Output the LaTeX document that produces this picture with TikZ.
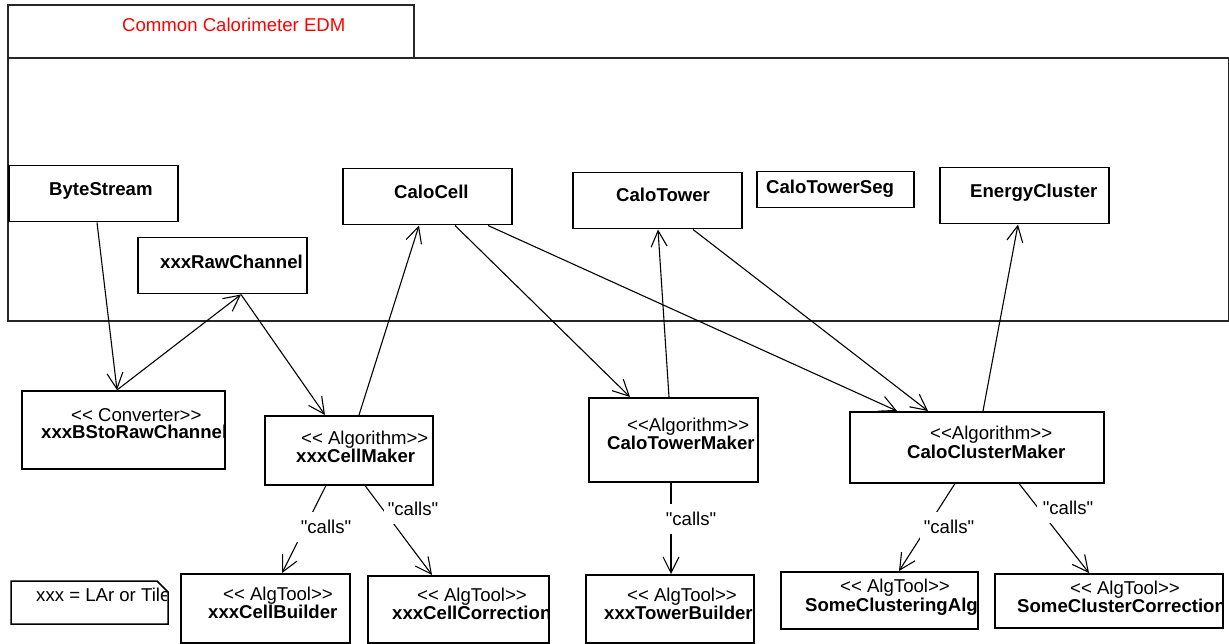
\documentclass[tikz,border=0pt]{standalone}
\usepackage{fontspec}
\setmainfont{Liberation Sans}[Ligatures=TeXOff]
\usetikzlibrary{arrows.meta}

\newcommand\dfont{\fontsize{18.6pt}{20pt}\selectfont}

% class box given by its corners (x1,y1) -- (x2,y2), y growing downwards
\newcommand\classbox[5]{%
  \node[box, anchor=north west,
        minimum width={(#4-#2)*1pt}, minimum height={(#5-#3)*1pt}] (#1) at (#2,#3) {};}
% texts of a box, clipped to the box
\newcommand\boxtexts[2]{%
  \begin{scope}\clip (#1.south west) rectangle (#1.north east); #2\end{scope}}

\tikzset{
  box/.style={draw=black, line width=1.5pt, fill=white, rectangle, inner sep=0pt},
  pkg/.style={draw=black!85, line width=1.8pt, rectangle, inner sep=0pt},
  txt/.style={anchor=base west, inner sep=0pt, font=\dfont,
    text height=13.4pt, text depth=0pt},
  btxt/.style={txt, font=\dfont\bfseries},
  conn/.style={line width=1.1pt,
    -{Straight Barb[length=16pt, width=16pt, line width=1.1pt]}},
  lbl/.style={fill=white, inner xsep=4pt, inner ysep=8pt, font=\dfont},
}

\begin{document}
\begin{tikzpicture}[x=1pt, y=-1pt]
\useasboundingbox (0,0) rectangle (1229,644);

% package
\node[pkg, anchor=north west, minimum width=1221pt, minimum height=263pt] (pkgbody) at (7,57) {};
\node[pkg, anchor=north west, minimum width=406pt, minimum height=53pt] (pkgtab) at (7,4) {};
\node[txt, text=red] (title) at (122,32) {Common Calorimeter EDM};

% classes of the EDM
\classbox{bs}{8}{165}{177}{221}
\classbox{raw}{137}{237}{306}{293}
\classbox{cell}{342}{168}{511}{224}
\classbox{tower}{572}{172}{741}{228}
\classbox{seg}{756}{171}{913}{207}
\classbox{ec}{939}{167}{1108}{223}

% algorithms
\classbox{conv}{21}{390}{224}{468}
\classbox{cm}{264}{415}{432}{484}
\classbox{tm}{588}{397}{757}{481}
\classbox{ccm}{849}{411}{1103}{482}

% tools
\classbox{cb}{180}{573}{349}{642}
\classbox{cc}{367}{575}{548}{642}
\classbox{tb}{585}{574}{753}{642}
\classbox{sca}{780}{571}{977}{628}
\classbox{scc}{994}{573}{1222}{627}

% note with its folded corner
\draw[line width=1.5pt] (11,581) -- (157,581) -- (168,592) -- (168,624) -- (11,624) -- cycle;
\coordinate (noteNW) at (11,624);
\coordinate (noteSE) at (166,581);

% texts
\boxtexts{bs}{\node[btxt] (bs-t) at (49,196) {ByteStream};}
\boxtexts{raw}{\node[btxt] (raw-t) at (160,269) {xxxRawChannel};}
\boxtexts{cell}{\node[btxt] (cell-t) at (394,199) {CaloCell};}
\boxtexts{tower}{\node[btxt] (tower-t) at (616,202) {CaloTower};}
\boxtexts{seg}{\node[btxt] (seg-t) at (766,194) {CaloTowerSeg};}
\boxtexts{ec}{\node[btxt] (ec-t) at (970,198) {EnergyCluster};}

\boxtexts{conv}{\node[txt] (conv-s) at (71,421) {<{}< Converter>{}>};
  \node[btxt] (conv-n) at (41,438) {xxxBStoRawChannel};}
\boxtexts{cm}{\node[txt] (cm-s) at (301,444) {<{}< Algorithm>{}>};
  \node[btxt] (cm-n) at (296,462) {xxxCellMaker};}
\boxtexts{tm}{\node[txt] (tm-s) at (627,431) {<{}<Algorithm>{}>};
  \node[btxt] (tm-n) at (607,449) {CaloTowerMaker};}
\boxtexts{ccm}{\node[txt] (ccm-s) at (930,439) {<{}<Algorithm>{}>};
  \node[btxt] (ccm-n) at (907,458) {CaloClusterMaker};}

\boxtexts{cb}{\node[txt] (cb-s) at (223,600) {<{}< AlgTool>{}>};
  \node[btxt] (cb-n) at (208,618) {xxxCellBuilder};}
\boxtexts{cc}{\node[txt] (cc-s) at (417,601) {<{}< AlgTool>{}>};
  \node[btxt] (cc-n) at (392,619) {xxxCellCorrection};}
\boxtexts{tb}{\node[txt] (tb-s) at (627,601) {<{}< AlgTool>{}>};
  \node[btxt] (tb-n) at (604,619) {xxxTowerBuilder};}
\boxtexts{sca}{\node[txt] (sca-s) at (840,592) {<{}< AlgTool>{}>};
  \node[btxt] (sca-n) at (805,611) {SomeClusteringAlg};}
\boxtexts{scc}{\node[txt] (scc-s) at (1070,594) {<{}< AlgTool>{}>};
  \node[btxt] (scc-n) at (1017,612) {SomeClusterCorrection};}

\begin{scope}
  \clip (noteNW) rectangle (noteSE);
  \node[txt] (note-t) at (36,601) {xxx = LAr or Tile};
\end{scope}

% associations
\draw[conn] ([xshift=89pt]bs.south west) -- ([xshift=96pt]conv.north west);
\draw[conn] ([xshift=96pt]conv.north west) -- ([xshift=104pt]raw.south west);
\draw[conn] ([xshift=104pt]raw.south west) -- ([xshift=61pt]cm.north west);
\draw[conn] ([xshift=95pt]cm.north west) -- ([xshift=77pt]cell.south west);
\draw[conn] ([xshift=113pt]cell.south west) -- ([xshift=42pt]tm.north west);
\draw[conn] ([xshift=81pt]tm.north west) -- ([xshift=86pt]tower.south west);
\draw[conn] ([xshift=146pt]cell.south west) -- ([xshift=48pt]ccm.north west);
\draw[conn] ([xshift=121pt]tower.south west) -- ([xshift=79pt]ccm.north west);
\draw[conn] ([xshift=134pt]ccm.north west) -- ([xshift=79pt]ec.south west);

% "calls" dependencies
\draw[conn] ([xshift=62pt]cm.south west) -- ([xshift=102pt]cb.north west);
\draw[conn] ([xshift=101pt]cm.south west) -- ([xshift=65pt]cc.north west);
\draw[conn] ([xshift=83pt]tm.south west) -- ([xshift=86pt]tb.north west);
\draw[conn] ([xshift=106pt]ccm.south west) -- ([xshift=119pt]sca.north west);
\draw[conn] ([xshift=170pt]ccm.south west) -- ([xshift=95pt]scc.north west);

\node[lbl] (l1) at (326,527) {"calls"};
\node[lbl] (l2) at (413,509) {"calls"};
\node[lbl] (l3) at (691,519) {"calls"};
\node[lbl] (l4) at (949,527) {"calls"};
\node[lbl, inner xsep=6pt] (l5) at (1068,508) {"calls"};
\end{tikzpicture}
\end{document}
